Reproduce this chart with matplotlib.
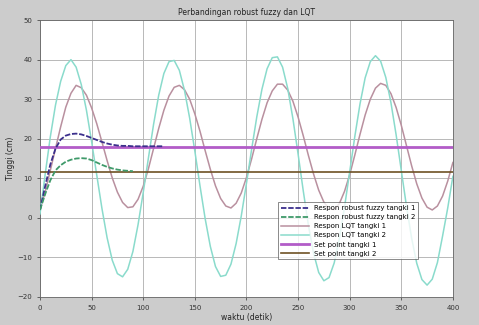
import matplotlib
matplotlib.use("Agg")
import matplotlib.pyplot as plt

# ---- data ----
t_lqt = list(range(0, 401, 5))
lqt2 = [1.0, 11.0, 20.5, 28.5, 34.5, 38.5, 40.0, 38.1, 33.7, 27.2,
        19.3, 10.8, 2.4, -5.0, -10.7, -14.1, -14.9, -13.0, -8.5, -1.7,
        6.4, 15.1, 23.6, 31.0, 36.5, 39.5, 39.8, 37.3, 32.2, 25.2,
        16.9, 8.1, -0.2, -7.2, -12.3, -14.8, -14.5, -11.7, -6.5, 0.5,
        8.7, 17.3, 25.5, 32.5, 37.7, 40.5, 40.7, 38.1, 32.7, 25.1,
        16.2, 6.9, -1.8, -8.9, -13.8, -15.9, -15.1, -11.4, -5.3, 2.7,
        11.6, 20.6, 28.8, 35.4, 39.5, 41.0, 39.6, 35.5, 29.1, 21.0,
        12.0, 3.0, -5.1, -11.5, -15.6, -17.0, -15.5, -11.3, -4.6, 2.5,
        10.5]
lqt1 = [2.0, 6.5, 12.0, 17.5, 23.0, 28.0, 31.5, 33.5, 32.9, 31.0,
        27.8, 23.8, 19.2, 14.5, 10.1, 6.5, 3.9, 2.6, 2.8, 4.7,
        8.0, 12.4, 17.5, 22.6, 27.2, 30.8, 33.0, 33.5, 32.4, 30.0,
        26.3, 21.9, 17.0, 12.3, 8.1, 4.9, 3.0, 2.5, 3.7, 6.3,
        10.2, 14.9, 20.0, 24.9, 29.1, 32.1, 33.8, 33.8, 32.3, 29.5,
        25.5, 20.8, 15.8, 11.1, 7.0, 4.0, 2.3, 2.1, 3.6, 6.7,
        10.9, 15.9, 21.1, 26.0, 30.0, 32.8, 34.0, 33.5, 31.4, 27.9,
        23.4, 18.3, 13.2, 8.6, 5.0, 2.7, 2.0, 3.0, 5.5, 9.3,
        14.0]

t_fz1 = list(range(0, 121, 5))
fuzzy1 = [2.0, 8.0, 13.5, 17.5, 19.8, 20.8, 21.2, 21.3, 21.1, 20.7,
          20.2, 19.7, 19.2, 18.8, 18.5, 18.3, 18.2, 18.2, 18.1, 18.1,
          18.1, 18.1, 18.1, 18.1, 18.1]
t_fz2 = list(range(0, 91, 5))
fuzzy2 = [2.0, 6.0, 9.5, 12.0, 13.3, 14.2, 14.7, 15.0, 15.1, 15.0,
          14.6, 14.0, 13.4, 12.9, 12.5, 12.2, 12.0, 11.9, 11.8]

sp_t = [0, 400]
setpoint1 = [18.0, 18.0]
setpoint2 = [11.7, 11.7]

labels = ["Respon robust fuzzy tangki 1", "Respon robust fuzzy tangki 2",
          "Respon LQT tangki 1", "Respon LQT tangki 2",
          "Set point tangki 1", "Set point tangki 2"]

xticks = [0, 50, 100, 150, 200, 250, 300, 350, 400]
yticks = [-20, -10, 0, 10, 20, 30, 40, 50]

# ---- figure ----
fig = plt.figure(figsize=(4.79, 3.25), dpi=100, facecolor="#cccccc")
ax = fig.add_axes([0.0835, 0.0862, 0.862, 0.852])
ax.set_facecolor("white")

ax.plot(t_fz1, fuzzy1, color="#3b2f8c", lw=1.3, ls=(0, (3, 1)), label=labels[0], zorder=5)
ax.plot(t_fz2, fuzzy2, color="#3f9a6a", lw=1.3, ls=(0, (3, 1)), label=labels[1], zorder=5)
ax.plot(t_lqt, lqt1, color="#b9909f", lw=1.1, label=labels[2], zorder=3)
ax.plot(t_lqt, lqt2, color="#8adbcc", lw=1.1, label=labels[3], zorder=3)
ax.plot(sp_t, setpoint1, color="#b25cc8", lw=2.0, label=labels[4], zorder=4)
ax.plot(sp_t, setpoint2, color="#6e5124", lw=1.2, label=labels[5], zorder=4)

ax.set_xlim(0, 400)
ax.set_ylim(-20, 50)
ax.set_xticks(xticks)
ax.set_yticks(yticks)
ax.tick_params(labelsize=5, length=2, width=0.5, colors="#333333")
ax.grid(True, color="#b8b8b8", lw=0.7)
for s in ax.spines.values():
    s.set_color("#666666")
    s.set_linewidth(0.6)

ax.set_title("Perbandingan robust fuzzy dan LQT", fontsize=5.5, color="#222222", pad=4)
ax.set_xlabel("waktu (detik)", fontsize=5.5, color="#222222", labelpad=2)
ax.set_ylabel("Tinggi (cm)", fontsize=5.5, color="#222222", labelpad=2)

leg = ax.legend(loc="lower right", bbox_to_anchor=(0.925, 0.123), fontsize=5,
                frameon=True, fancybox=False, edgecolor="#555555",
                handlelength=4, labelspacing=0.45, borderpad=0.4)
leg.get_frame().set_linewidth(0.6)

fig.savefig("out.png", dpi=100, facecolor=fig.get_facecolor())
